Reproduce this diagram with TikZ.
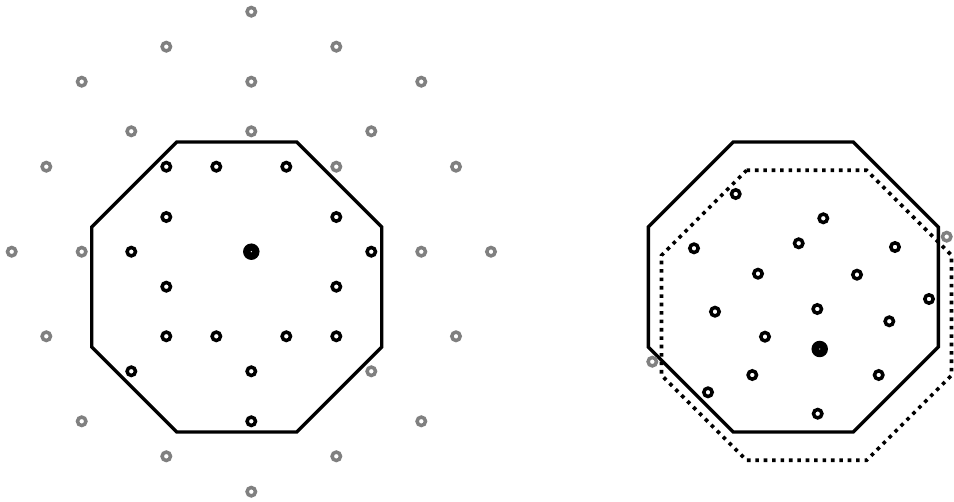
\documentclass[tikz,border=0pt]{standalone}
\usetikzlibrary{calc}
\definecolor{ringgray}{RGB}{128,128,128}
\tikzset{
  ring/.style={circle,draw=black,line width=3.5pt,inner sep=0pt,minimum size=8.4pt,outer sep=0pt},
  grayring/.style={ring,draw=ringgray},
  centerdot/.style={circle,fill=black,inner sep=0pt,minimum size=16.5pt},
  octline/.style={line width=3.4pt,line join=miter},
  dotline/.style={line width=3.6pt,dash pattern=on 3.6pt off 4.8pt,line cap=butt}
}
\newcommand\octpath[2]{%
  (#1-60,#2-145) -- (#1+60,#2-145) -- (#1+145,#2-60) -- (#1+145,#2+60) --
  (#1+60,#2+145) -- (#1-60,#2+145) -- (#1-145,#2+60) -- (#1-145,#2-60) -- cycle}
\begin{document}
\begin{tikzpicture}[x=1pt,y=-1pt]
\useasboundingbox (0,0) rectangle (954,502);
% octagons
\draw[octline] \octpath{236.7}{287};
\draw[octline] \octpath{793.3}{287};
\draw[dotline] \octpath{806.5}{315.3};
% left lattice, gray
\foreach \x/\y [count=\i] in {251.3/11.7,166.3/46.7,336.3/46.7,81.7/81.7,251.3/81.7,421.3/81.7,
  131.3/131.3,251.3/131.3,371.3/131.3,46.3/166.7,336.3/166.7,456/166.7,
  11.7/251.7,81.7/251.7,421.3/251.7,491/251.7,46.3/336.3,456/336.3,371.3/371.3,
  81.7/421.3,421.3/421.3,166.3/456.3,336.3/456.3,251.3/491.7}
  \node[grayring] (lg\i) at (\x,\y) {};
% left lattice, black
\foreach \x/\y [count=\i] in {166.3/166.7,216.3/166.7,286.3/166.7,166.3/217,336.3/217,
  131.3/251.7,371.3/251.7,166.3/286.7,336.3/286.7,
  166.3/336.3,216.3/336.3,286.3/336.3,336.3/336.3,131.3/371.3,251.3/371.3,251.3/421.3}
  \node[ring] (lb\i) at (\x,\y) {};
\node[centerdot] (lc) at (251.3,251.7) {};
\fill[white] (lc.center) circle (0.7pt);
% right set
\foreach \x/\y [count=\i] in {735.7/194,823.3/218.3,694/248.3,798.7/243.3,895/247,
  758/273.7,857/274.7,929/299,715/311.7,817.3/309,889.3/321.3,765/336.7,
  752.3/375,878.7/375,708/392.3,817.7/413.7}
  \node[ring] (rb\i) at (\x,\y) {};
\node[grayring] (rg1) at (946.7,236.7) {};
\node[grayring] (rg2) at (652.3,361.7) {};
\node[centerdot] (rc) at (819.7,349) {};
\fill[white] (rc.center) circle (0.7pt);
\end{tikzpicture}
\end{document}
